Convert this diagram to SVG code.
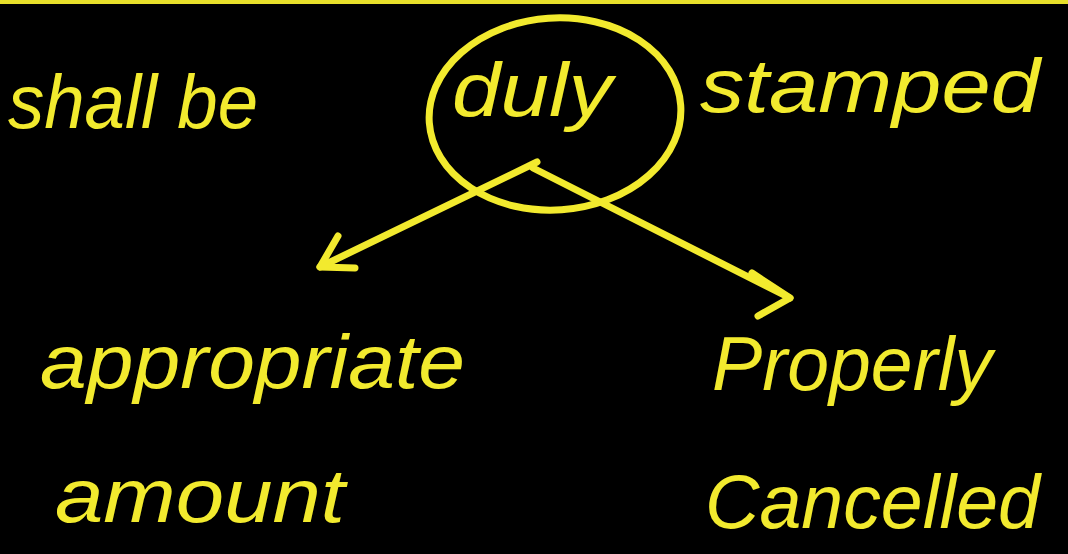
<svg xmlns="http://www.w3.org/2000/svg" width="1068" height="554" viewBox="0 0 1068 554">
<style>
.t{font-family:"Liberation Sans",Arial,sans-serif;font-size:76px;fill:#f2ea2e;font-style:italic}
.ln{fill:none;stroke:#f2ea2e;stroke-width:7;stroke-linecap:round;stroke-linejoin:round}
</style>
<rect width="1068" height="554" fill="#000"/>
<rect x="0" y="0" width="1068" height="4" fill="#e8e02a"/>
<g id="head">
<text class="t" x="8" y="128" textLength="250" lengthAdjust="spacingAndGlyphs">shall be</text>
<text class="t" x="700" y="112" textLength="340" lengthAdjust="spacingAndGlyphs">stamped</text>
</g>
<g id="duly">
<ellipse class="ln" cx="555" cy="114" rx="126" ry="96" transform="rotate(-4 555 114)"/>
<text class="t" x="452" y="116" textLength="160" lengthAdjust="spacingAndGlyphs">duly</text>
</g>
<g id="appropriate">
<text class="t" x="40" y="388" textLength="425" lengthAdjust="spacingAndGlyphs">appropriate</text>
<text class="t" x="55" y="522" textLength="290" lengthAdjust="spacingAndGlyphs">amount</text>
</g>
<g id="properly">
<text class="t" x="712" y="390" textLength="280" lengthAdjust="spacingAndGlyphs">Properly</text>
<text class="t" x="705" y="528" textLength="335" lengthAdjust="spacingAndGlyphs">Cancelled</text>
</g>
<g id="connectors">
<path class="ln" d="M537 162 L320 267"/>
<path class="ln" d="M338 236 L320 267 L355 268"/>
<path class="ln" d="M533 168 L790 298"/>
<path class="ln" d="M752 273 L790 298 L758 316"/>
</g>
</svg>
